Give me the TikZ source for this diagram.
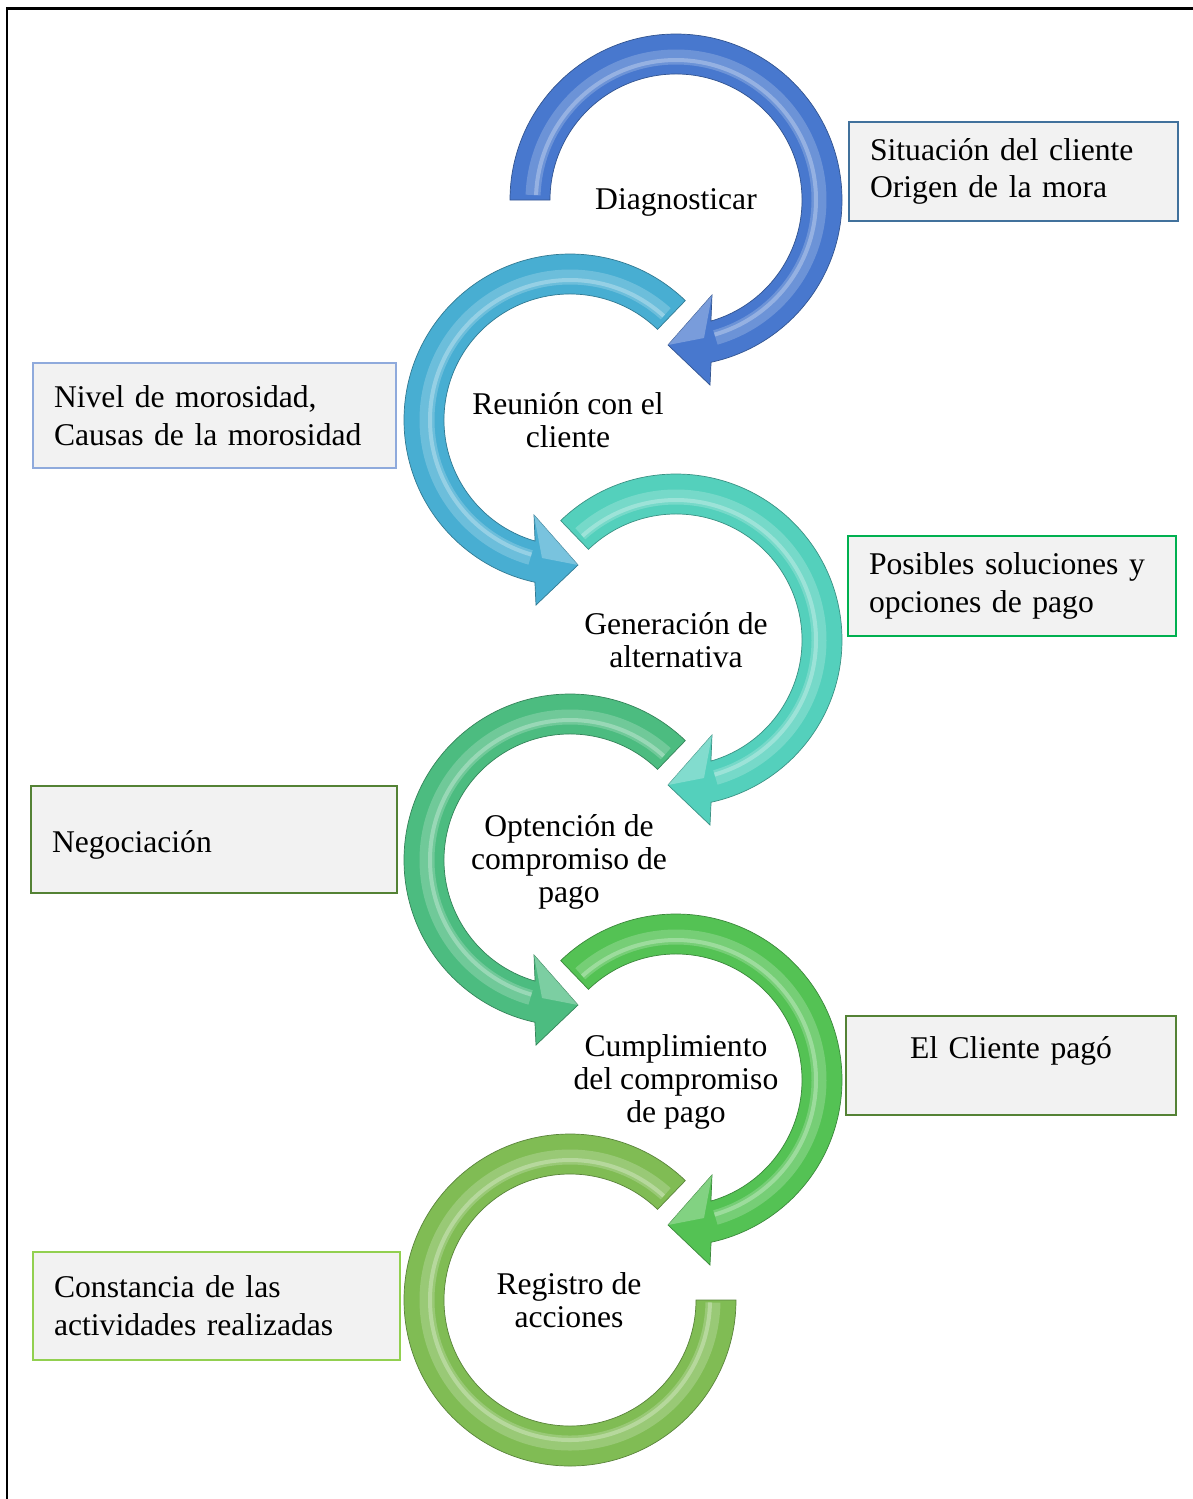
\documentclass[tikz,border=0pt]{standalone}
\usepackage{fontspec}
\setmainfont{Liberation Serif}

\definecolor{azul}{RGB}{72,120,206}
\definecolor{celeste}{RGB}{72,174,210}
\definecolor{turquesa}{RGB}{84,208,188}
\definecolor{verdemar}{RGB}{76,188,128}
\definecolor{verde}{RGB}{84,194,84}
\definecolor{verdelima}{RGB}{128,188,84}
\definecolor{gris}{RGB}{242,242,242}
\definecolor{bordeA}{RGB}{65,113,156}
\definecolor{bordeB}{RGB}{143,170,220}
\definecolor{bordeC}{RGB}{0,176,80}
\definecolor{bordeD}{RGB}{84,130,53}
\definecolor{bordeE}{RGB}{146,208,80}

% flecha circular: centro, espejo, angulo de la cola, color
\newcommand{\flecha}[4]{%
  \begin{scope}[shift={(#1)}, xscale=#2]
    \filldraw[fill=#4, draw=#4!70!black, line width=0.4pt]
      (#3:166) arc[start angle=#3, end angle=-77.8, radius=166]
      -- (34,-185) -- (-8,-145) -- (36,-95)
      -- (-73.9:126) arc[start angle=-73.9, end angle=#3, radius=126] -- cycle;
    \draw[#4!55!white, line width=0.3cm, opacity=0.45]
      (#3-2:143) arc[start angle=#3-2, end angle=-74, radius=143];
    \draw[#4!35!white, line width=0.08cm, opacity=0.5]
      (#3-2:140) arc[start angle=#3-2, end angle=-74, radius=140];
    \fill[#4!55!white, opacity=0.6] (-8,-145) -- (36,-95) -- (28,-138) -- cycle;
  \end{scope}}

% arco sin punta: centro, espejo, angulo inicial, angulo final, color
\newcommand{\arco}[5]{%
  \begin{scope}[shift={(#1)}, xscale=#2]
    \filldraw[fill=#5, draw=#5!70!black, line width=0.4pt]
      (#3:166) arc[start angle=#3, end angle=#4, radius=166]
      -- (#4:126) arc[start angle=#4, end angle=#3, radius=126] -- cycle;
    \draw[#5!55!white, line width=0.3cm, opacity=0.45]
      (#3-2:143) arc[start angle=#3-2, end angle=#4+1, radius=143];
    \draw[#5!35!white, line width=0.08cm, opacity=0.5]
      (#3-2:140) arc[start angle=#3-2, end angle=#4+1, radius=140];
  \end{scope}}

\begin{document}
\begin{tikzpicture}[x=0.02cm, y=0.02cm,
		caja/.style={draw, fill=gris, line width=1.1pt, inner xsep=0.42cm, align=left,
		  font=\fontsize{18pt}{21.5pt}\selectfont},
		paso/.style={align=center, font=\fontsize{18pt}{18.7pt}\selectfont}
		]
	\useasboundingbox (0,0) rectangle (1193,-1499);

	% Marco
	\draw[line width=1.7pt] (7,-1499) -- (7,-8) -- (1193,-8);

	% Flechas del ciclo
	% ----------------------
	\flecha{676,-200}{1}{180}{azul}
	\flecha{570,-420}{-1}{134}{celeste}
	\flecha{676,-640}{1}{134}{turquesa}
	\flecha{570,-860}{-1}{134}{verdemar}
	\flecha{676,-1080}{1}{134}{verde}
	\arco{570,-1300}{-1}{134}{-180}{verdelima}

	% Pasos
	% ----------------------
	\node[paso] (diag) at (676,-202) {Diagnosticar};
	\node[paso] (reunion) at (568,-420) {Reunión con el\\cliente};
	\node[paso] (alternativa) at (676,-640) {Generación de\\alternativa};
	\node[paso] (compromiso) at (569,-862) {Optención de\\compromiso de\\pago};
	\node[paso] (cumplimiento) at (676,-1082) {Cumplimiento\\del compromiso\\de pago};
	\node[paso] (registro) at (569,-1300) {Registro de\\acciones};

	% Cajas de resultado
	% ----------------------
	\node[caja, draw=bordeA, text width=5.74cm, minimum height=1.98cm] (situacion) at (1013.5,-171.5)
		{Situación del cliente\\Origen de la mora};
	\node[caja, draw=bordeB, text width=6.42cm, minimum height=2.1cm] (nivel) at (214.5,-415.5)
		{Nivel de morosidad,\\Causas de la morosidad};
	\node[caja, draw=bordeC, text width=5.72cm, minimum height=2.0cm] (soluciones) at (1012,-586)
		{Posibles soluciones y\\opciones de pago};
	\node[caja, draw=bordeD, text width=6.48cm, inner ysep=0pt,
		text height=1.32cm, text depth=0.82cm] (negociacion) at (214,-839.5)
		{Negociación};
	\node[caja, draw=bordeD, text width=5.76cm, align=center, inner ysep=0pt,
		text height=0.84cm, text depth=1.14cm] (pago) at (1011,-1065.5)
		{El Cliente pagó};
	\node[caja, draw=bordeE, text width=6.5cm, minimum height=2.16cm] (constancia) at (216.5,-1306)
		{Constancia de las\\actividades realizadas};
\end{tikzpicture}
\end{document}
